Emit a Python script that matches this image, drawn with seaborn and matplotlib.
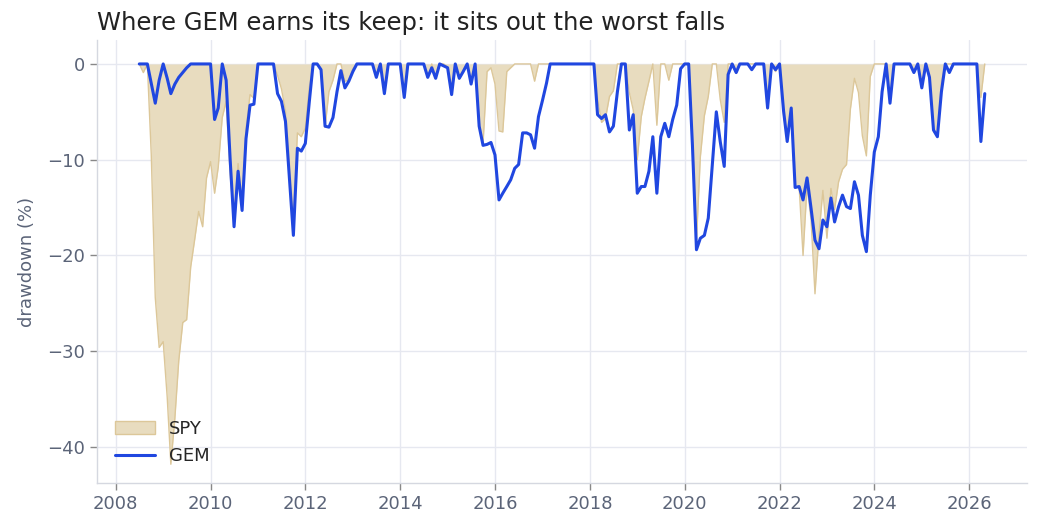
import numpy as np
import pandas as pd
import matplotlib
matplotlib.use("Agg")
import matplotlib.pyplot as plt
import matplotlib.dates as mdates
from matplotlib.patches import Patch
from matplotlib.lines import Line2D
import seaborn as sns

# ---- data (month-end drawdowns, %) ----
dates = pd.date_range("2008-06-30", periods=215, freq="ME")

spy_dd = [
    0, -0.9, 0, -9.4, -24.4, -29.6, -29.0, -34.8, -41.8, -37.0,
    -31.0, -27.0, -26.7, -21.2, -18.3, -15.4, -17.0, -11.9, -10.2, -13.5,
    -10.8, -5.6, -3.9, -11.5, -16.4, -10.4, -14.6, -6.8, -3.2, -3.6,
    0, 0, 0, 0, 0, -1.2, -2.6, -4.9, -10.5, -16.4,
    -7.2, -7.6, -6.7, -2.4, 0, 0, -0.7, -6.6, -2.9, -1.7,
    0, 0, -1.8, -1.7, -0.5, 0, 0, 0, 0, 0,
    -1.3, 0, -3.0, 0, 0, 0, 0, -3.5, 0, 0,
    0, 0, 0, -1.4, 0, -1.4, 0, 0, -0.3, -3.1,
    0, -1.6, -0.7, 0, -2.0, 0, -6.1, -8.3, -0.8, -0.4,
    -2.1, -7.0, -7.1, -0.8, -0.4, 0, 0, 0, 0, 0,
    -1.8, 0, 0, 0, 0, 0, 0, 0, 0, 0,
    0, 0, 0, 0, 0, 0, -3.6, -6.1, -5.7, -3.4,
    -2.8, 0, 0, 0, -3.0, -4.8, -10.0, -5.5, -3.6, -1.8,
    0, -6.4, 0, 0, -1.7, 0, 0, 0, 0, 0,
    -8.0, -18.5, -9.7, -5.4, -3.4, 0, 0, -3.7, -6.1, 0,
    0, -1.0, 0, 0, 0, 0, 0, 0, 0, -4.7,
    0, -0.8, 0, -5.3, -8.0, -4.6, -12.9, -12.8, -20.0, -12.7,
    -16.3, -24.0, -17.8, -13.2, -18.2, -13.0, -15.2, -12.3, -11.0, -10.5,
    -4.7, -1.5, -3.0, -7.5, -9.6, -1.3, 0, 0, 0, 0,
    -4.1, 0, 0, 0, 0, 0, -0.9, 0, -2.4, 0,
    -1.3, -7.0, -7.6, -1.9, 0, 0, 0, 0, 0, 0,
    0, 0, 0, -3.5, 0,
]

gem_dd = [
    0, 0, 0, -2.0, -4.1, -1.7, 0, -1.5, -3.1, -2.1,
    -1.4, -0.9, -0.4, 0, 0, 0, 0, 0, 0, -5.8,
    -4.6, 0, -1.7, -10.0, -17.0, -11.2, -15.3, -7.8, -4.3, -4.2,
    0, 0, 0, 0, 0, -3.1, -3.9, -6.0, -12.0, -17.9,
    -8.8, -9.1, -8.3, -3.9, 0, 0, -0.6, -6.5, -6.6, -5.6,
    -2.9, -0.7, -2.5, -1.8, -0.8, 0, 0, 0, 0, 0,
    -1.4, 0, -3.1, 0, 0, 0, 0, -3.5, 0, 0,
    0, 0, 0, -1.4, -0.4, -1.5, 0, -0.2, -0.4, -3.2,
    0, -1.5, -0.8, 0, -2.1, 0, -6.5, -8.5, -8.4, -8.2,
    -9.5, -14.2, -13.5, -12.8, -12.1, -10.9, -10.5, -7.2, -7.2, -7.4,
    -8.8, -5.5, -3.8, -2.0, 0, 0, 0, 0, 0, 0,
    0, 0, 0, 0, 0, 0, -5.3, -5.7, -5.3, -7.1,
    -6.5, -2.9, 0, 0, -6.9, -5.3, -13.5, -12.8, -12.8, -11.2,
    -7.6, -13.5, -7.6, -6.2, -7.6, -5.8, -4.3, -0.5, 0, 0,
    -8.5, -19.4, -18.2, -17.9, -16.1, -10.5, -5.0, -8.1, -10.7, -1.1,
    0, -0.9, 0, 0, 0, -0.6, 0, 0, 0, -4.6,
    0, -0.6, 0, -4.9, -8.1, -4.6, -12.9, -12.8, -14.2, -11.9,
    -15.1, -18.4, -19.3, -16.3, -17.0, -14.0, -16.5, -14.9, -13.7, -14.9,
    -15.1, -12.3, -13.7, -17.9, -19.6, -13.7, -9.2, -7.6, -2.9, 0,
    -4.1, 0, 0, 0, 0, 0, -0.9, 0, -2.5, 0,
    -1.4, -6.9, -7.6, -2.9, 0, -0.9, 0, 0, 0, 0,
    0, 0, 0, -8.1, -3.1,
]

title = "Where GEM earns its keep: it sits out the worst falls"
y_label = "drawdown (%)"
series_names = ["SPY", "GEM"]
y_ticks = [0, -10, -20, -30, -40]

df = pd.DataFrame({"date": dates, "SPY": spy_dd, "GEM": gem_dd})

# ---- style ----
sns.set_theme(style="whitegrid")
plt.rcParams["font.family"] = ["DejaVu Sans"]

tick_col = "#5b6478"
grid_col = "#e6e8f0"
spy_fill = "#e8dcbf"
spy_edge = "#dcc799"
gem_col = "#2047e0"

fig = plt.figure(figsize=(10.41, 5.32), dpi=100)
ax = fig.add_axes([0.0932, 0.0921, 0.8934, 0.8327])

ax.fill_between(df["date"], df["SPY"], 0, color=spy_fill, alpha=1.0,
                linewidth=0, zorder=1)
ax.plot(df["date"], df["SPY"], color=spy_edge, linewidth=1.0, zorder=1.5)
sns.lineplot(data=df, x="date", y="GEM", ax=ax, color=gem_col,
             linewidth=2.2, zorder=3, legend=False)

ax.grid(True, color=grid_col, linewidth=1.0)
ax.set_axisbelow(True)

ax.xaxis.set_major_locator(mdates.YearLocator(2))
ax.xaxis.set_major_formatter(mdates.DateFormatter("%Y"))
ax.set_yticks(y_ticks)
ax.set_ylim(-43.76, 2.5)

ax.set_xlabel("")
ax.set_ylabel(y_label, fontsize=13, color=tick_col, labelpad=8)
ax.tick_params(axis="both", labelsize=13, colors=tick_col, length=5,
               width=1, left=True, bottom=True)
ax.tick_params(axis="both", color="#888888")

for s in ["top", "right"]:
    ax.spines[s].set_visible(False)
for s in ["left", "bottom"]:
    ax.spines[s].set_color("#d5d8e0")
    ax.spines[s].set_linewidth(1.0)

ax.set_title(title, loc="left", fontsize=17.5, color="#222222", pad=7)

handles = [
    Patch(facecolor=spy_fill, edgecolor=spy_edge, linewidth=1.0, label=series_names[0]),
    Line2D([0], [0], color=gem_col, linewidth=2.2, label=series_names[1]),
]
leg = ax.legend(handles=handles, loc="lower left", frameon=False, fontsize=13,
                handlelength=2.2, borderaxespad=0.6)

fig.savefig("out.png", dpi=100)
